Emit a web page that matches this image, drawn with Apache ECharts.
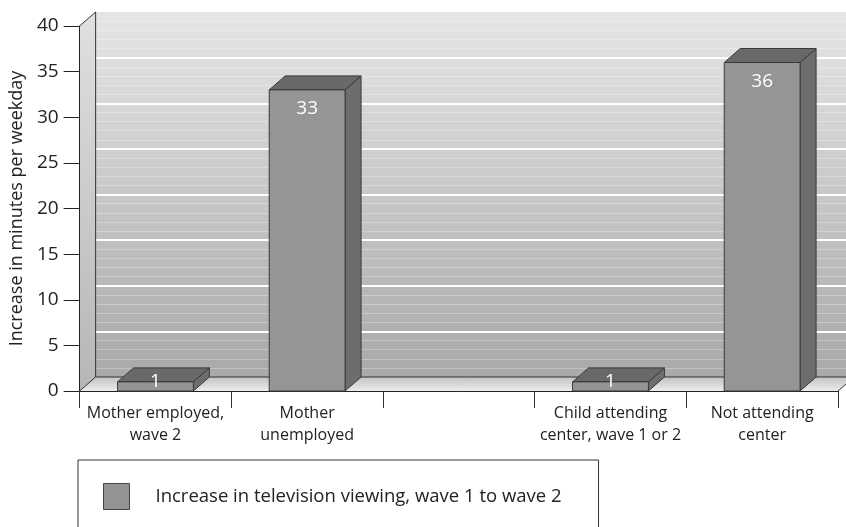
<!DOCTYPE html>
<html><head><meta charset="utf-8">
<script src="https://cdn.jsdelivr.net/npm/echarts@6/dist/echarts.min.js"></script>
<style>html,body{margin:0;padding:0;background:#fff}#c{width:846px;height:527px}</style>
</head><body><div id="c"></div>
<script>
// ---- data ----
const categories = ['Mother employed,\nwave 2', 'Mother\nunemployed', '', 'Child attending\ncenter, wave 1 or 2', 'Not attending\ncenter'];
const values = [1, 33, null, 1, 36];
const yMin = 0, yMax = 40, yInterval = 5;
const seriesName = 'Increase in television viewing, wave 1 to wave 2';
const yAxisName = 'Increase in minutes per weekday';

// ---- style ----
const FONT = '"Open Sans", "DejaVu Sans", sans-serif';
const DX = 16, DY = -14;
const STROKE = '#3a3a3a';

const chart = echarts.init(document.getElementById('c'), null, {renderer: 'canvas'});

function renderBar(params, api) {
  const v = api.value(1);
  if (v == null || isNaN(v)) return;
  const base = api.coord([api.value(0), 0]);
  const top = api.coord([api.value(0), v]);
  const bw = api.size([1, 0])[0] * 0.5;
  const x0 = top[0] - bw / 2, x1 = top[0] + bw / 2, y0 = top[1], yb = base[1];
  return {
    type: 'group', children: [
      {type: 'polygon', shape: {points: [[x1, y0], [x1 + DX, y0 + DY], [x1 + DX, yb + DY], [x1, yb]]},
        style: {fill: '#6d6d6f', stroke: STROKE, lineWidth: 1}},
      {type: 'polygon', shape: {points: [[x0, y0], [x0 + DX, y0 + DY], [x1 + DX, y0 + DY], [x1, y0]]},
        style: {fill: '#69696b', stroke: STROKE, lineWidth: 1}},
      {type: 'rect', shape: {x: x0, y: y0, width: bw, height: yb - y0},
        style: {fill: '#959598', stroke: STROKE, lineWidth: 1}},
      {type: 'text', x: (x0 + x1) / 2, y: Math.min(y0 + 19, yb - 9),
        style: {text: String(v), fill: '#ffffff', font: '19px ' + FONT, align: 'center', verticalAlign: 'middle'}}
    ]
  };
}

const wallGrad = {type: 'linear', x: 0, y: 0, x2: 0, y2: 1,
  colorStops: [{offset: 0, color: '#e6e6e8'}, {offset: 1, color: '#a9a9ab'}]};

const splitColors = ['rgba(0,0,0,0)', '#fff', '#fff', '#fff', '#fff', '#fff', '#fff', '#fff', 'rgba(0,0,0,0)'];

const option = {
  animation: false,
  backgroundColor: '#fff',
  grid: [
    {left: 78, right: 8, top: 26, bottom: 136, containLabel: false},
    {left: 78 + DX, right: 8 - DX, top: 26 + DY, bottom: 136 - DY, show: true, backgroundColor: wallGrad, borderWidth: 0}
  ],
  xAxis: [
    {type: 'category', gridIndex: 0, data: categories,
      axisLine: {lineStyle: {color: '#222', width: 1}},
      axisTick: {show: true, length: 17, lineStyle: {color: '#333'}},
      axisLabel: {interval: 0, fontSize: 16, lineHeight: 22, margin: 11, color: '#222', fontFamily: FONT},
      z: 5},
    {type: 'category', gridIndex: 1, data: categories, show: false}
  ],
  yAxis: [
    {type: 'value', gridIndex: 0, min: yMin, max: yMax, interval: yInterval,
      name: yAxisName, nameLocation: 'middle', nameGap: 52,
      nameTextStyle: {fontSize: 18, color: '#222', fontFamily: FONT},
      axisLine: {show: true, lineStyle: {color: '#222'}},
      axisTick: {show: true, length: 16, lineStyle: {color: '#222'}},
      axisLabel: {fontSize: 19, color: '#222', margin: 21, fontFamily: FONT},
      splitLine: {show: false}, z: 5},
    {type: 'value', gridIndex: 1, min: yMin, max: yMax, interval: yInterval,
      axisLine: {show: false}, axisTick: {show: false}, axisLabel: {show: false},
      splitLine: {show: true, lineStyle: {color: splitColors, width: 2}},
      minorTick: {show: false, splitNumber: 5},
      minorSplitLine: {show: true, lineStyle: {color: 'rgba(255,255,255,0.28)', width: 1}}}
  ],
  legend: {
    data: [{name: seriesName, icon: 'rect'}],
    left: 78, top: 460, orient: 'horizontal',
    padding: [23, 37, 40, 25], borderColor: '#333', borderWidth: 1,
    itemWidth: 26, itemHeight: 26,
    itemStyle: {color: '#939393', borderColor: '#444', borderWidth: 1},
    textStyle: {fontSize: 18.5, color: '#222', fontFamily: FONT, padding: [0, 0, 0, 21]}
  },
  series: [{
    name: seriesName, type: 'custom', xAxisIndex: 0, yAxisIndex: 0,
    renderItem: renderBar, encode: {x: 0, y: 1},
    itemStyle: {color: '#939393', borderColor: '#444', borderWidth: 1},
    data: values.map((v, i) => [i, v]), z: 10, clip: false
  }]
};
chart.setOption(option);

// walls and floor from the grid geometry
const r = chart.getModel().getComponent('grid', 0).coordinateSystem.getRect();
const L = r.x, T = r.y, R = r.x + r.width, B = r.y + r.height;
const floorGrad = {type: 'linear', x: 0, y: 0, x2: 0, y2: 1,
  colorStops: [{offset: 0, color: '#c2c2c4'}, {offset: 1, color: '#ececec'}]};
const sideGrad = {type: 'linear', x: 0, y: 0, x2: 0, y2: 1,
  colorStops: [{offset: 0, color: '#e0e0e2'}, {offset: 1, color: '#b6b6b8'}]};
chart.setOption({
  graphic: [
    {type: 'polygon', z: 3, shape: {points: [[L, T], [L + DX, T + DY], [L + DX, B + DY], [L, B]]},
      style: {fill: sideGrad, stroke: null}},
    {type: 'polygon', z: 3, shape: {points: [[L, B], [L + DX, B + DY], [R + DX, B + DY], [R, B]]},
      style: {fill: floorGrad, stroke: null}},
    {type: 'polyline', z: 4, shape: {points: [[L, T], [L + DX, T + DY], [L + DX, B + DY], [R + DX, B + DY]]},
      style: {stroke: '#333', lineWidth: 1, fill: null}},
    {type: 'polyline', z: 4, shape: {points: [[L, B], [L + DX, B + DY]]},
      style: {stroke: '#333', lineWidth: 1, fill: null}},
    {type: 'polyline', z: 4, shape: {points: [[R, B], [R + DX, B + DY]]},
      style: {stroke: '#333', lineWidth: 1, fill: null}}
  ]
});
</script></body></html>
